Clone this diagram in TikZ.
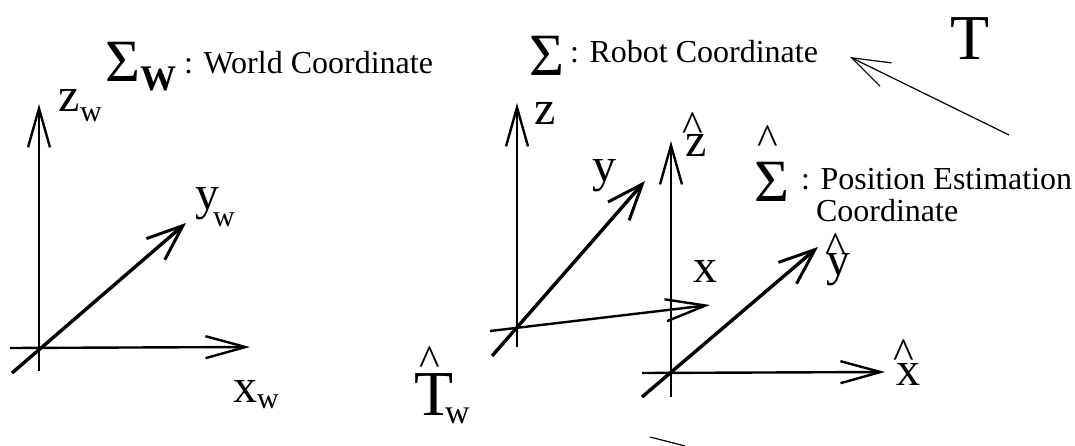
\documentclass[tikz,border=0pt]{standalone}
\usepackage{fontspec}
\setmainfont{Liberation Serif}
\usetikzlibrary{arrows.meta}
\newcommand{\px}[1]{\fontsize{#1pt}{#1pt}\selectfont}
\begin{document}
\begin{tikzpicture}[
        x=1pt,y=-1pt,
        every node/.style={inner sep=0pt,outer sep=0pt,anchor=base west},
        lbl/.style={font=\px{48}},
        sub/.style={font=\px{30}},
        caption/.style={font=\px{32}},
        sigma/.style={font=\px{60}},
        big/.style={font=\px{64}},
        hatmark/.style={font=\px{44}},
        thin axis/.style={line width=2pt,-{Straight Barb[length=39pt,width=22pt,line width=2.4pt]}},
        thick axis/.style={line width=3.4pt,-{Straight Barb[length=36pt,width=28pt,line width=3pt]}},
        mid axis/.style={line width=2.4pt,-{Straight Barb[length=40pt,width=22pt,line width=2.4pt]}}
    ]
    \useasboundingbox (0,0) rectangle (1075,446);

    % world frame
    \coordinate (wzs) at (39,371);
    \coordinate (wze) at (39,104);
    \coordinate (wxs) at (10,348);
    \coordinate (wxe) at (250,347);
    \coordinate (wys) at (12,373);
    \coordinate (wye) at (186,223);
    \draw[thin axis] (wzs) -- (wze);
    \draw[mid axis] (wxs) -- (wxe);
    \draw[thick axis] (wys) -- (wye);

    % robot frame
    \coordinate (rzs) at (517,347);
    \coordinate (rze) at (517,103);
    \coordinate (rxs) at (490,331);
    \coordinate (rxe) at (710,305);
    \coordinate (rys) at (492,356);
    \coordinate (rye) at (645,181);
    \draw[thin axis] (rzs) -- (rze);
    \draw[mid axis] (rxs) -- (rxe);
    \draw[thick axis] (rys) -- (rye);

    % estimated frame
    \coordinate (ezs) at (671,397);
    \coordinate (eze) at (671,141);
    \coordinate (exs) at (642,373);
    \coordinate (exe) at (885,372);
    \coordinate (eys) at (642,397);
    \coordinate (eye) at (818,247);
    \draw[thin axis] (ezs) -- (eze);
    \draw[mid axis] (exs) -- (exe);
    \draw[thick axis] (eys) -- (eye);

    % transforms
    \coordinate (ts) at (1009,135);
    \coordinate (te) at (850,57);
    \draw[line width=1.2pt,-{Straight Barb[length=38pt,width=26pt,line width=1.2pt]}] (ts) -- (te);
    \coordinate (ctop) at (650,437);
    \coordinate (cbot) at (685,446);
    \draw[line width=1.2pt] (ctop) -- (cbot);

    % world labels
    \node[sigma] (sw) at (105,82) {Σ};
    \node[font=\px{36}\bfseries] (swsub) at (140,91) {W};
    \node[caption] (wcap) at (184,74) {: World Coordinate};
    \node[lbl] (zw) at (58,112) {z};
    \node[sub] (zwsub) at (80,122) {w};
    \node[lbl] (yw) at (195,210) {y};
    \node[sub] (ywsub) at (213,226) {w};
    \node[lbl] (xw) at (233,402) {x};
    \node[sub] (xwsub) at (257,408) {w};

    % robot labels
    \node[sigma] (sr) at (529,76) {Σ};
    \node[caption] (rcap) at (570,63) {: Robot Coordinate};
    \node[big] (tt) at (950,60) {T};
    \node[lbl] (rz) at (534,125) {z};
    \node[lbl] (ry) at (592,182) {y};
    \node[lbl] (rx) at (693,282) {x};

    % estimated labels
    \node[sigma] (se) at (754,202) {Σ};
    \node[hatmark] (seh) at (757.5,155) {\textasciicircum};
    \node[caption] (ecap) at (801,190) {: Position Estimation};
    \node[caption] (ecap2) at (816,222) {Coordinate};
    \node[lbl] (ez) at (685,157) {z};
    \node[hatmark] (ezh) at (682.5,142) {\textasciicircum};
    \node[lbl] (ey) at (826,275) {y};
    \node[hatmark] (eyh) at (825.5,262) {\textasciicircum};
    \node[lbl] (ex) at (896,385) {x};
    \node[hatmark] (exh) at (893.5,368) {\textasciicircum};
    \node[big] (tw) at (414,415) {T};
    \node[hatmark] (twh) at (419.5,375) {\textasciicircum};
    \node[font=\px{34}] (twsub) at (445,423) {w};
\end{tikzpicture}
\end{document}
